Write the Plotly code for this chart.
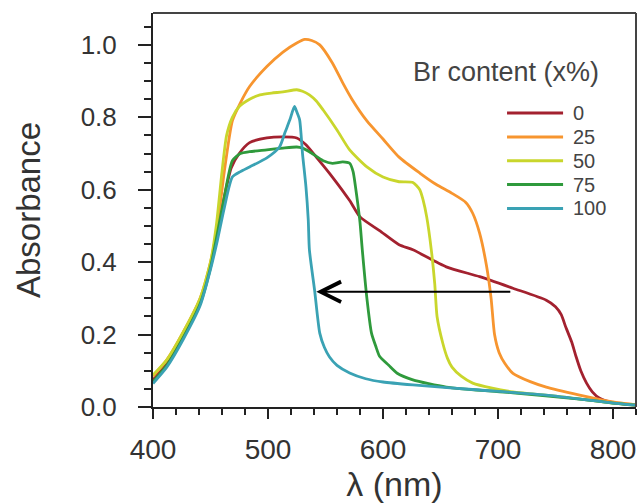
import plotly.graph_objects as go

# ---- data ----
labels = ["0", "25", "50", "75", "100"]
colors = ["#a3212f", "#f7952f", "#c9d62c", "#2f9a3c", "#3aa2b4"]
legend_title = "Br content (x%)"

wl_0 = [400, 412, 426, 441, 450, 456, 462, 468, 475, 484, 499, 513, 525, 533, 542, 556, 571, 580, 597, 614, 626, 655, 684, 713, 742, 750, 755, 759, 764, 768, 772, 777, 782, 788, 800, 820]
abs_0 = [0.075, 0.12, 0.195, 0.29, 0.39, 0.48, 0.58, 0.66, 0.70, 0.73, 0.743, 0.746, 0.743, 0.724, 0.69, 0.635, 0.57, 0.525, 0.487, 0.448, 0.434, 0.387, 0.36, 0.328, 0.295, 0.277, 0.255, 0.22, 0.18, 0.138, 0.10, 0.066, 0.042, 0.025, 0.012, 0.005]

wl_25 = [400, 412, 426, 441, 450, 456, 462, 469, 476, 484, 499, 513, 525, 532, 538, 545, 556, 565, 573, 586, 600, 614, 632, 646, 660, 672, 678, 684, 690, 694, 697, 701, 706, 713, 728, 742, 771, 790, 800, 820]
abs_25 = [0.085, 0.13, 0.205, 0.30, 0.40, 0.50, 0.65, 0.79, 0.84, 0.885, 0.94, 0.98, 1.005, 1.015, 1.012, 1.0, 0.95, 0.895, 0.85, 0.79, 0.74, 0.69, 0.646, 0.615, 0.59, 0.565, 0.535, 0.48, 0.39, 0.30, 0.20, 0.15, 0.12, 0.093, 0.07, 0.055, 0.033, 0.02, 0.014, 0.006]

wl_50 = [400, 412, 426, 441, 450, 455, 460, 464, 469, 475, 484, 493, 503, 513, 525, 530, 536, 542, 548, 560, 571, 586, 600, 614, 626, 632, 635, 638, 642, 645, 647, 652, 656, 660, 668, 678, 695, 713, 756, 800, 820]
abs_50 = [0.088, 0.13, 0.205, 0.30, 0.40, 0.50, 0.65, 0.75, 0.80, 0.83, 0.85, 0.862, 0.867, 0.87, 0.876, 0.872, 0.862, 0.845, 0.82, 0.765, 0.71, 0.663, 0.635, 0.622, 0.62, 0.60, 0.57, 0.525, 0.434, 0.34, 0.25, 0.176, 0.135, 0.11, 0.085, 0.066, 0.052, 0.042, 0.028, 0.011, 0.005]

wl_75 = [400, 412, 426, 441, 450, 456, 462, 469, 476, 484, 499, 513, 525, 530, 536, 548, 556, 565, 571, 574, 576, 578, 580, 582, 586, 590, 594, 597, 605, 612, 626, 655, 713, 771, 800, 820]
abs_75 = [0.07, 0.115, 0.19, 0.285, 0.385, 0.48, 0.58, 0.68, 0.70, 0.705, 0.71, 0.715, 0.718, 0.715, 0.705, 0.68, 0.673, 0.677, 0.673, 0.65, 0.61, 0.563, 0.51, 0.434, 0.30, 0.204, 0.165, 0.14, 0.115, 0.094, 0.075, 0.055, 0.039, 0.022, 0.011, 0.005]

wl_100 = [400, 412, 426, 441, 450, 456, 462, 469, 476, 484, 499, 510, 515, 519, 523, 525, 527.5, 530, 533, 535, 536, 540.5, 545, 549, 553.5, 560, 571, 585, 600, 626, 684, 742, 800, 820]
abs_100 = [0.065, 0.11, 0.185, 0.28, 0.38, 0.46, 0.55, 0.635, 0.65, 0.663, 0.688, 0.718, 0.76, 0.793, 0.83, 0.815, 0.793, 0.70, 0.608, 0.517, 0.434, 0.323, 0.204, 0.165, 0.138, 0.115, 0.094, 0.078, 0.069, 0.061, 0.047, 0.033, 0.011, 0.005]

wavelengths = [wl_0, wl_25, wl_50, wl_75, wl_100]
absorbances = [abs_0, abs_25, abs_50, abs_75, abs_100]

x_ticks = [400, 500, 600, 700, 800]
y_ticks = [0.0, 0.2, 0.4, 0.6, 0.8, 1.0]

fig = go.Figure()
for lab, col, xs, ys in zip(labels, colors, wavelengths, absorbances):
    fig.add_trace(go.Scatter(x=xs, y=ys, mode="lines", name=lab, showlegend=False,
                             line=dict(color=col, width=2.8, shape="spline", smoothing=0.6)))

# arrow showing the blue shift
fig.add_annotation(x=542, y=0.318, ax=712, ay=0.318, xref="x", yref="y",
                   axref="x", ayref="y", text="", showarrow=True,
                   arrowhead=5, arrowsize=2, arrowwidth=2, arrowcolor="black")

# frame: top and right edges
fig.add_shape(type="line", xref="paper", yref="paper", x0=0, x1=1, y0=1, y1=1,
              line=dict(color="#444444", width=2))
fig.add_shape(type="line", xref="paper", yref="paper", x0=1, x1=1, y0=0, y1=1,
              line=dict(color="#444444", width=2))

# legend (drawn as lines + text)
fig.add_annotation(xref="paper", yref="paper", x=0.928, y=0.85, xanchor="right", yanchor="middle",
                   text=legend_title, showarrow=False, font=dict(size=27, color="#444444"))
row_y0, row_dy = 0.746, 0.0605
for i, (lab, col) in enumerate(zip(labels, colors)):
    yy = row_y0 - i * row_dy
    fig.add_shape(type="line", xref="paper", yref="paper", x0=0.733, x1=0.849, y0=yy, y1=yy,
                  line=dict(color=col, width=3))
    fig.add_annotation(xref="paper", yref="paper", x=0.865, y=yy, xanchor="left", yanchor="middle",
                       text=lab, showarrow=False, font=dict(size=20, color="#444444"))

font_family = "Liberation Sans, Arial, sans-serif"
fig.update_layout(
    width=642, height=504,
    margin=dict(l=153, r=6, t=13, b=97),
    paper_bgcolor="white", plot_bgcolor="white",
    font=dict(family=font_family, color="#333333"),
    showlegend=False,
    xaxis=dict(
        range=[400, 820], tickvals=x_ticks, ticktext=[str(v) for v in x_ticks],
        ticks="outside", ticklen=10, tickwidth=2, tickcolor="#222",
        minor=dict(dtick=20, ticks="outside", ticklen=6, tickwidth=2, tickcolor="#222"),
        showline=True, linecolor="#222", linewidth=2,
        showgrid=False, zeroline=False, automargin=False,
        tickfont=dict(size=28, color="#333"), ticklabelstandoff=6,
        title=dict(text="λ (nm)", font=dict(size=34, color="#333"), standoff=2),
    ),
    yaxis=dict(
        range=[0, 1.088], tickvals=y_ticks, ticktext=["%.1f" % v for v in y_ticks],
        ticks="outside", ticklen=13, tickwidth=2, tickcolor="#222",
        minor=dict(dtick=0.05, ticks="outside", ticklen=7, tickwidth=2, tickcolor="#222"),
        showline=True, linecolor="#222", linewidth=2,
        showgrid=False, zeroline=False, automargin=False,
        tickfont=dict(size=26, color="#333"), ticklabelstandoff=16,
        title=dict(text="Absorbance", font=dict(size=33, color="#333"), standoff=30),
    ),
)

fig.write_html("out.html", config={"displayModeBar": False},
               post_script="document.body.style.margin='0';document.body.style.overflow='hidden';")
